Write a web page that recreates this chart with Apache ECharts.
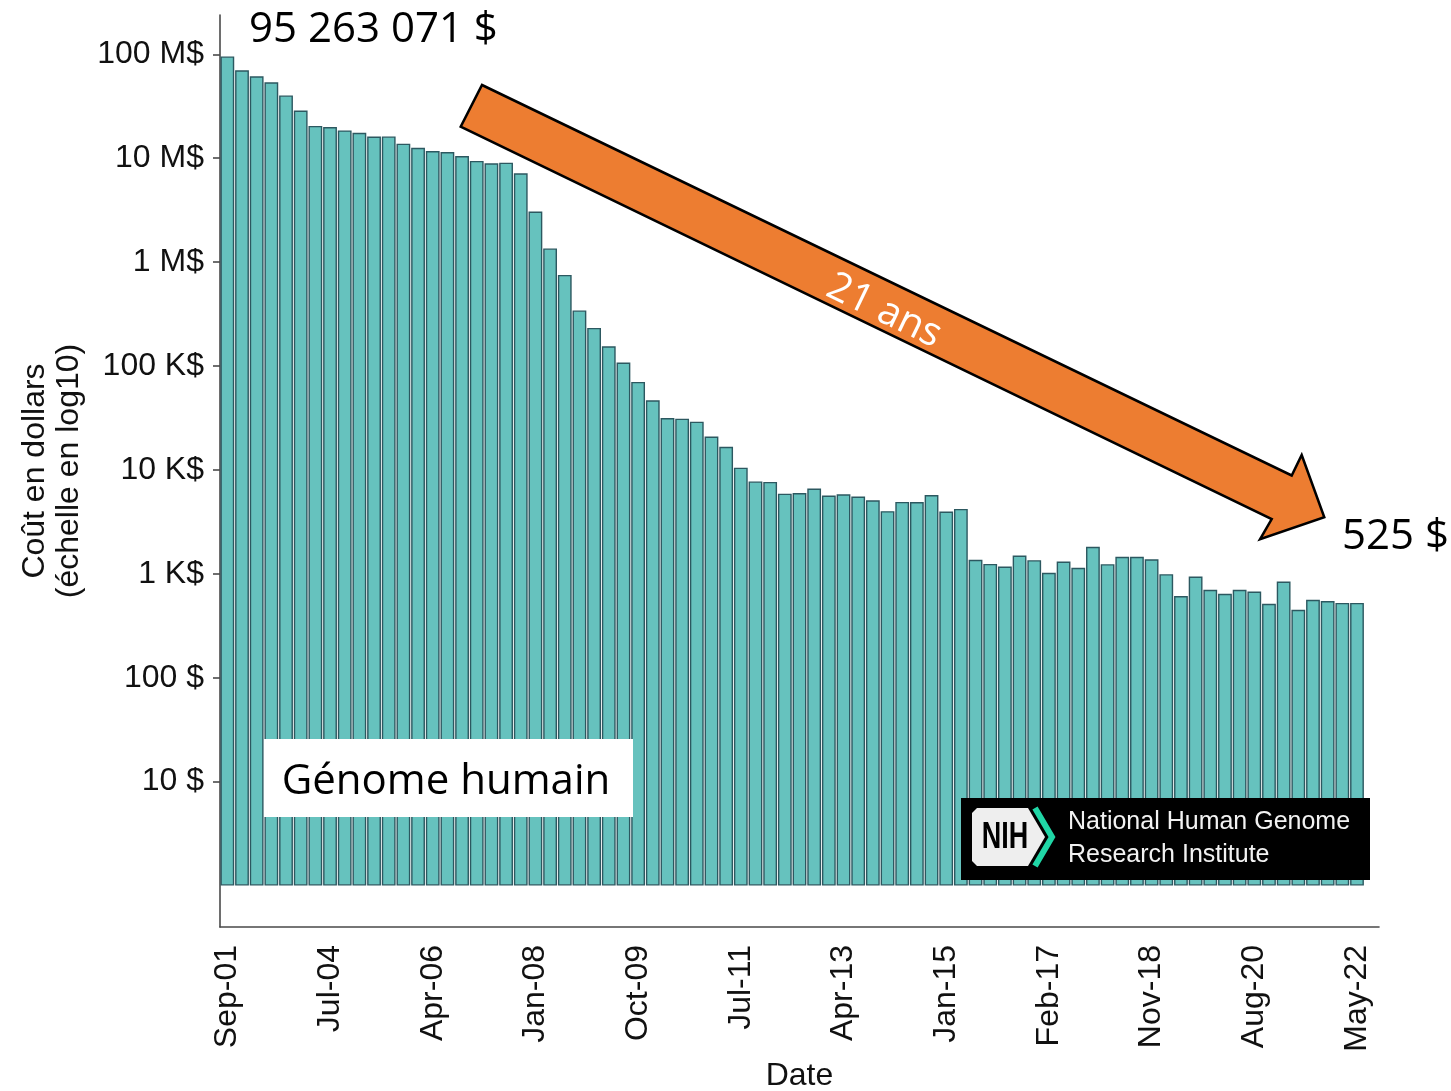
<!DOCTYPE html>
<html>
<head>
<meta charset="utf-8">
<script src="https://cdn.jsdelivr.net/npm/echarts@6/dist/echarts.min.js"></script>
<style>
  html, body { margin: 0; padding: 0; background: #fff; }
</style>
</head>
<body>
<div id="main" style="width:1451px;height:1091px;"></div>
<script>
// cost of sequencing one human genome (NHGRI)
var dates = ['Sep-01', 'Mar-02', 'Sep-02', 'Mar-03', 'Oct-03', 'Jan-04', 'Apr-04', 'Jul-04', 'Oct-04', 'Jan-05',
  'Apr-05', 'Jul-05', 'Oct-05', 'Jan-06', 'Apr-06', 'Jul-06', 'Oct-06', 'Jan-07', 'Apr-07', 'Jul-07',
  'Oct-07', 'Jan-08', 'Apr-08', 'Jul-08', 'Oct-08', 'Jan-09', 'Apr-09', 'Jul-09', 'Oct-09', 'Jan-10',
  'Apr-10', 'Jul-10', 'Oct-10', 'Jan-11', 'Apr-11', 'Jul-11', 'Oct-11', 'Jan-12', 'Apr-12', 'Jul-12',
  'Oct-12', 'Jan-13', 'Apr-13', 'Jul-13', 'Oct-13', 'Jan-14', 'Apr-14', 'Jul-14', 'Oct-14', 'Jan-15',
  'Apr-15', 'Jul-15', 'Oct-15', 'Jan-16', 'Apr-16', 'Aug-16', 'Feb-17', 'May-17', 'Aug-17', 'Nov-17',
  'Feb-18', 'May-18', 'Aug-18', 'Nov-18', 'Feb-19', 'May-19', 'Aug-19', 'Nov-19', 'Feb-20', 'May-20',
  'Aug-20', 'Nov-20', 'Feb-21', 'May-21', 'Aug-21', 'Nov-21', 'Feb-22', 'May-22'];

var costs = [95263071, 70175437, 61448422, 53751684, 40157554, 28780376, 20442576, 19934346, 18519312, 17534970,
  16159699, 16180224, 13801124, 12585659, 11732535, 11455315, 10474556, 9408739, 8927342, 9047003,
  7147815, 3063820, 1352982, 752080, 342502, 232735, 154714, 108065, 70333, 46774,
  31512, 31125, 29092, 20963, 16712, 10497, 7743, 7666, 5901, 5985,
  6618, 5671, 5826, 5550, 5096, 4008, 4920, 4905, 5731, 3970,
  4211, 1363, 1245, 1175, 1500, 1352, 1023, 1312, 1142, 1820,
  1237, 1456, 1456, 1380, 991, 610, 942, 702, 642, 702,
  676, 515, 843, 451, 562, 546, 525, 525];

var yTicks = [10, 100, 1000, 10000, 100000, 1000000, 10000000, 100000000];

// ggplot leaves one empty slot at the right end
var cats = dates.concat(['']);
var vals = costs.concat(['-']);

function fmtCost(v) {
  v = Math.round(v);
  if (v >= 1e6) return Math.round(v / 1e6) + ' M$';
  if (v >= 1e3) return Math.round(v / 1e3) + ' K$';
  return v + ' $';
}

var chart = echarts.init(document.getElementById('main'));

var option = {
  backgroundColor: '#fff',
  animation: false,
  grid: {
    left: 220,
    top: 15,
    width: 1159,
    height: 912,
    outerBoundsMode: 'none'
  },
  xAxis: {
    type: 'category',
    data: cats,
    name: 'Date',
    nameLocation: 'middle',
    nameGap: 133,
    nameTextStyle: { fontFamily: 'Liberation Sans', fontSize: 32, color: '#111' },
    axisLine: { lineStyle: { color: '#4a4a4a', width: 1.6 } },
    axisTick: { interval: 6, alignWithLabel: true, length: 6, lineStyle: { color: '#4a4a4a', width: 1.6 } },
    axisLabel: {
      interval: 6,
      rotate: 90,
      margin: 18,
      fontFamily: 'Liberation Sans',
      fontSize: 32,
      color: '#111'
    },
    splitLine: { show: false }
  },
  yAxis: {
    type: 'log',
    logBase: 10,
    min: 0.399,
    max: 2.388e8,
    name: 'Coût en dollars\n(échelle en log10)',
    nameLocation: 'middle',
    nameRotate: 90,
    nameGap: 132,
    nameTextStyle: { fontFamily: 'Liberation Sans', fontSize: 32, lineHeight: 34, color: '#111' },
    axisLine: { show: true, lineStyle: { color: '#4a4a4a', width: 1.6 } },
    axisTick: { show: true, length: 7, customValues: yTicks, lineStyle: { color: '#4a4a4a', width: 1.6 } },
    axisLabel: {
      customValues: yTicks,
      margin: 16,
      fontFamily: 'Liberation Sans',
      fontSize: 32,
      color: '#111',
      formatter: fmtCost
    },
    splitLine: { show: false }
  },
  series: [{
    type: 'bar',
    data: vals,
    barCategoryGap: '6%',
    itemStyle: {
      color: '#66C2BE',
      borderColor: '#2C5860',
      borderWidth: 1.4
    }
  }],
  graphic: [
    {
      type: 'text', left: 249, top: 9, z: 100,
      style: { text: '95 263 071 $', fontFamily: 'Open Sans', fontSize: 42, fill: '#000' }
    },
    {
      type: 'text', left: 1342, top: 516, z: 100,
      style: { text: '525 $', fontFamily: 'Open Sans', fontSize: 42, fill: '#000' }
    },
    {
      type: 'polygon', z: 100,
      shape: { points: [[482, 85], [1291.7, 475.5], [1301.7, 455], [1324.3, 517.3], [1260, 539.3], [1271.7, 519], [460.7, 126.7]] },
      style: { fill: '#ED7D31', stroke: '#000', lineWidth: 2.5, lineJoin: 'miter' }
    },
    {
      type: 'text', x: 884, y: 311, rotation: -0.449, z: 101,
      style: { text: '21 ans', fontFamily: 'Open Sans', fontSize: 40, fill: '#fff', align: 'center', verticalAlign: 'middle' }
    },
    {
      type: 'rect', z: 100,
      shape: { x: 264, y: 739, width: 369, height: 78 },
      style: { fill: '#fff' }
    },
    {
      type: 'text', x: 446, y: 782, z: 101,
      style: { text: 'Génome humain', fontFamily: 'Open Sans', fontSize: 42, fill: '#000', align: 'center', verticalAlign: 'middle' }
    },
    {
      type: 'rect', z: 100,
      shape: { x: 961, y: 798, width: 409, height: 82 },
      style: { fill: '#000' }
    },
    {
      type: 'polygon', z: 101,
      shape: { points: [[977, 808], [1028, 808], [1045, 837], [1028, 866], [977, 866], [972, 861], [972, 813]] },
      style: { fill: '#eeeeee' }
    },
    {
      type: 'polyline', z: 101,
      shape: { points: [[1035, 808], [1052, 837], [1035, 866]] },
      style: { stroke: '#20D6A6', lineWidth: 6, fill: null }
    },
    {
      type: 'text', x: 1005, y: 838, scaleY: 1.35, z: 102,
      style: { text: 'NIH', fontFamily: 'Liberation Sans', fontWeight: 'bold', fontSize: 27, fill: '#000', align: 'center', verticalAlign: 'middle' }
    },
    {
      type: 'text', x: 1068, y: 822, z: 102,
      style: { text: 'National Human Genome', fontFamily: 'Liberation Sans', fontSize: 25, fill: '#f2f2f2', verticalAlign: 'middle' }
    },
    {
      type: 'text', x: 1068, y: 855, z: 102,
      style: { text: 'Research Institute', fontFamily: 'Liberation Sans', fontSize: 25, fill: '#f2f2f2', verticalAlign: 'middle' }
    }
  ]
};

chart.setOption(option);
</script>
</body>
</html>
